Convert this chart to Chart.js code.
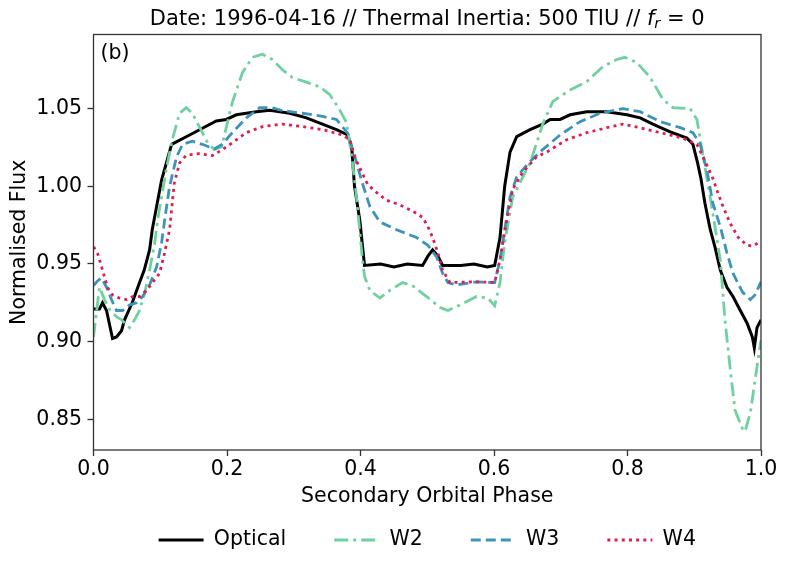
<!DOCTYPE html>
<html>
<head>
<meta charset="utf-8">
<script src="https://cdn.jsdelivr.net/npm/chart.js@4.4.1/dist/chart.umd.min.js"></script>
<style>
  html, body { margin: 0; padding: 0; background: #fff; }
  #wrap { width: 788px; height: 571px; }
</style>
</head>
<body>
<div id="wrap"><canvas id="myChart" width="788" height="571"></canvas></div>
<script>
// values
const opticalPhase = [0.0, 0.009, 0.0135, 0.0195, 0.0285, 0.0345, 0.042, 0.0465, 0.058, 0.069, 0.076, 0.084, 0.088, 0.102, 0.117, 0.144, 0.166, 0.184, 0.199, 0.214, 0.244, 0.264, 0.294, 0.319, 0.343, 0.364, 0.381, 0.387, 0.391, 0.399, 0.406, 0.43, 0.45, 0.47, 0.493, 0.501, 0.508, 0.516, 0.523, 0.55, 0.57, 0.59, 0.601, 0.609, 0.616, 0.624, 0.634, 0.654, 0.673, 0.684, 0.699, 0.714, 0.739, 0.769, 0.799, 0.819, 0.838, 0.864, 0.889, 0.898, 0.905, 0.91, 0.916, 0.924, 0.931, 0.939, 0.949, 0.958, 0.969, 0.979, 0.987, 0.99, 0.994, 1.0];
const opticalFlux = [0.921, 0.921, 0.925, 0.920, 0.902, 0.903, 0.907, 0.914, 0.925, 0.938, 0.946, 0.959, 0.972, 1.004, 1.027, 1.033, 1.038, 1.042, 1.043, 1.046, 1.048, 1.049, 1.047, 1.044, 1.040, 1.0365, 1.033, 1.024, 1.0, 0.978, 0.949, 0.950, 0.948, 0.950, 0.949, 0.955, 0.959, 0.955, 0.949, 0.949, 0.950, 0.948, 0.949, 0.967, 1.0, 1.022, 1.032, 1.0365, 1.040, 1.043, 1.043, 1.046, 1.048, 1.048, 1.046, 1.044, 1.040, 1.035, 1.031, 1.027, 1.015, 1.005, 0.989, 0.972, 0.961, 0.946, 0.935, 0.929, 0.920, 0.912, 0.903, 0.896, 0.909, 0.914];

const w2Phase = [0.0, 0.009, 0.0165, 0.025, 0.0345, 0.042, 0.054, 0.0615, 0.069, 0.0765, 0.084, 0.0915, 0.096, 0.109, 0.118, 0.129, 0.139, 0.148, 0.159, 0.171, 0.181, 0.192, 0.199, 0.208, 0.223, 0.238, 0.253, 0.268, 0.283, 0.298, 0.319, 0.339, 0.354, 0.369, 0.379, 0.387, 0.394, 0.402, 0.406, 0.414, 0.429, 0.444, 0.463, 0.478, 0.499, 0.519, 0.531, 0.549, 0.574, 0.591, 0.601, 0.609, 0.616, 0.628, 0.654, 0.664, 0.673, 0.688, 0.714, 0.739, 0.763, 0.784, 0.796, 0.814, 0.834, 0.853, 0.868, 0.894, 0.904, 0.913, 0.925, 0.939, 0.946, 0.954, 0.961, 0.972, 0.976, 0.984, 0.991, 1.0];
const w2Flux = [0.903, 0.935, 0.927, 0.920, 0.916, 0.914, 0.909, 0.914, 0.920, 0.931, 0.946, 0.963, 0.978, 1.011, 1.030, 1.047, 1.0506, 1.047, 1.038, 1.028, 1.0236, 1.0255, 1.038, 1.054, 1.073, 1.083, 1.085, 1.0816, 1.075, 1.070, 1.067, 1.064, 1.059, 1.049, 1.041, 1.019, 0.993, 0.957, 0.942, 0.933, 0.928, 0.933, 0.938, 0.936, 0.929, 0.922, 0.920, 0.9236, 0.929, 0.928, 0.923, 0.938, 0.9636, 0.993, 1.015, 1.028, 1.040, 1.0545, 1.062, 1.0674, 1.077, 1.0816, 1.083, 1.0797, 1.070, 1.056, 1.0506, 1.050, 1.043, 1.020, 0.990, 0.9526, 0.914, 0.882, 0.856, 0.844, 0.842, 0.854, 0.875, 0.901];

const w3Phase = [0.0, 0.006, 0.012, 0.0195, 0.027, 0.0345, 0.0435, 0.054, 0.0645, 0.0735, 0.084, 0.0945, 0.102, 0.1065, 0.114, 0.1245, 0.1335, 0.148, 0.163, 0.181, 0.193, 0.208, 0.229, 0.249, 0.267, 0.283, 0.313, 0.343, 0.364, 0.381, 0.391, 0.402, 0.414, 0.429, 0.454, 0.484, 0.501, 0.514, 0.523, 0.531, 0.544, 0.574, 0.601, 0.609, 0.616, 0.624, 0.634, 0.654, 0.673, 0.699, 0.729, 0.759, 0.793, 0.819, 0.849, 0.879, 0.898, 0.909, 0.919, 0.928, 0.939, 0.949, 0.958, 0.972, 0.984, 0.991, 1.0];
const w3Flux = [0.936, 0.939, 0.941, 0.935, 0.927, 0.920, 0.920, 0.9236, 0.925, 0.929, 0.9365, 0.948, 0.9636, 0.978, 1.0, 1.019, 1.027, 1.029, 1.027, 1.024, 1.027, 1.0345, 1.044, 1.0506, 1.0506, 1.0487, 1.047, 1.045, 1.043, 1.034, 1.020, 1.003, 0.987, 0.977, 0.972, 0.967, 0.962, 0.9545, 0.944, 0.938, 0.9365, 0.9385, 0.938, 0.9526, 0.972, 0.993, 1.006, 1.016, 1.0236, 1.033, 1.0416, 1.047, 1.050, 1.048, 1.0416, 1.0377, 1.0345, 1.027, 1.010, 0.989, 0.974, 0.957, 0.944, 0.932, 0.927, 0.930, 0.9385];

const w4Phase = [0.0, 0.006, 0.0135, 0.021, 0.0285, 0.039, 0.0495, 0.0585, 0.069, 0.0795, 0.0885, 0.099, 0.1065, 0.114, 0.121, 0.129, 0.139, 0.159, 0.178, 0.193, 0.208, 0.229, 0.253, 0.283, 0.313, 0.343, 0.373, 0.384, 0.391, 0.402, 0.411, 0.424, 0.439, 0.459, 0.478, 0.493, 0.501, 0.508, 0.516, 0.523, 0.534, 0.574, 0.601, 0.609, 0.619, 0.628, 0.643, 0.664, 0.679, 0.709, 0.739, 0.769, 0.793, 0.819, 0.849, 0.883, 0.904, 0.913, 0.927, 0.936, 0.944, 0.954, 0.966, 0.979, 0.988, 0.996, 1.0];
const w4Flux = [0.961, 0.957, 0.946, 0.935, 0.930, 0.928, 0.927, 0.929, 0.929, 0.933, 0.938, 0.944, 0.957, 0.972, 1.002, 1.015, 1.020, 1.021, 1.0197, 1.0236, 1.028, 1.0345, 1.0384, 1.040, 1.0384, 1.0365, 1.033, 1.030, 1.019, 1.009, 1.001, 0.996, 0.991, 0.988, 0.984, 0.980, 0.974, 0.967, 0.957, 0.946, 0.938, 0.9385, 0.938, 0.9526, 0.978, 0.998, 1.009, 1.019, 1.022, 1.030, 1.0345, 1.0377, 1.040, 1.0377, 1.0345, 1.031, 1.027, 1.019, 1.006, 0.995, 0.986, 0.976, 0.967, 0.962, 0.9615, 0.9636, 0.963];

const seriesNames = ['Optical', 'W2', 'W3', 'W4'];
const xTicks = [0.0, 0.2, 0.4, 0.6, 0.8, 1.0];
const yTicks = [0.85, 0.90, 0.95, 1.00, 1.05];
const titleStart = 'Date: 1996-04-16 // Thermal Inertia: 500 TIU // ';
const titleEnd = ' = 0';
const panelLabel = '(b)';

const FONT = 'DejaVu Sans';
const FS = 20.5;
const TITLE_FS = 21;
Chart.defaults.font.family = FONT;
Chart.defaults.font.size = FS;
Chart.defaults.color = '#000';

const toPoints = (xs, ys) => xs.map((x, i) => ({x: x, y: ys[i]}));

const frame = {
    id: 'frame',
    afterLayout(chart) {
        // centre the legend under the axes like matplotlib does
        const a = chart.chartArea;
        chart.legend.left = a.left;
        chart.legend.right = a.right;
        chart.legend.width = a.right - a.left;
    },
    afterDraw(chart) {
        const {ctx, chartArea: a} = chart;
        ctx.save();
        ctx.strokeStyle = '#333';
        ctx.lineWidth = 1.3;
        ctx.strokeRect(a.left, a.top, a.right - a.left, a.bottom - a.top);

        ctx.fillStyle = '#000';
        ctx.textBaseline = 'middle';
        ctx.textAlign = 'left';
        ctx.font = FS + 'px "' + FONT + '"';
        ctx.fillText(panelLabel, a.left + 7, a.top + 19);

        // title with italic f and subscript r
        const normal = TITLE_FS + 'px "' + FONT + '"';
        const ital = 'oblique ' + TITLE_FS + 'px "' + FONT + '"';
        const sub = 'oblique ' + (TITLE_FS * 0.7) + 'px "' + FONT + '"';
        ctx.font = normal; const w1 = ctx.measureText(titleStart).width;
        ctx.font = ital; const w2 = ctx.measureText('f').width;
        ctx.font = sub; const w3 = ctx.measureText('r').width;
        ctx.font = normal; const w4 = ctx.measureText(titleEnd).width;
        let x = (a.left + a.right) / 2 - (w1 + w2 + w3 + w4) / 2;
        const y = 19.5;
        ctx.font = normal; ctx.fillText(titleStart, x, y); x += w1;
        ctx.font = ital; ctx.fillText('f', x, y); x += w2;
        ctx.font = sub; ctx.fillText('r', x, y + 5); x += w3;
        ctx.font = normal; ctx.fillText(titleEnd, x, y);
        ctx.restore();
    }
};

const legendLabels = (chart) => {
    const items = Chart.defaults.plugins.legend.labels.generateLabels(chart);
    items.forEach((item) => {
        const ds = chart.data.datasets[item.datasetIndex];
        item.strokeStyle = ds.borderColor;
        item.lineWidth = ds.borderWidth;
        item.lineDash = ds.borderDash || [];
        item.lineDashOffset = 0;
        item.lineCap = 'butt';
        item.pointStyle = 'line';
    });
    return items.sort((a, b) => a.datasetIndex - b.datasetIndex);
};

const ctx = document.getElementById('myChart');

new Chart(ctx, {
    type: 'line',
    data: {
        datasets: [{
            label: seriesNames[0],
            data: toPoints(opticalPhase, opticalFlux),
            borderColor: '#000000',
            borderWidth: 3,
            order: 4
        }, {
            label: seriesNames[1],
            data: toPoints(w2Phase, w2Flux),
            borderColor: '#6fd1a0',
            borderWidth: 2.8,
            borderDash: [14, 5, 3, 5],
            order: 3
        }, {
            label: seriesNames[2],
            data: toPoints(w3Phase, w3Flux),
            borderColor: '#3d93ba',
            borderWidth: 2.8,
            borderDash: [10, 5],
            order: 2
        }, {
            label: seriesNames[3],
            data: toPoints(w4Phase, w4Flux),
            borderColor: '#dc1f4e',
            borderWidth: 2.8,
            borderDash: [3, 4.2],
            order: 1
        }]
    },
    options: {
        responsive: false,
        animation: false,
        devicePixelRatio: 1,
        layout: {
            padding: {left: 0, right: 27, top: 34.5, bottom: 10.75}
        },
        elements: {
            point: {radius: 0},
            line: {tension: 0, fill: false, borderCapStyle: 'butt'}
        },
        plugins: {
            legend: {
                position: 'bottom',
                labels: {
                    usePointStyle: true,
                    pointStyle: 'line',
                    pointStyleWidth: 45,
                    padding: 48,
                    color: '#000',
                    font: {size: FS},
                    generateLabels: legendLabels
                }
            },
            tooltip: {enabled: false},
            title: {display: false}
        },
        scales: {
            x: {
                type: 'linear',
                min: 0,
                max: 1,
                afterBuildTicks: (scale) => { scale.ticks = xTicks.map(v => ({value: v})); },
                afterFit: (scale) => { scale.height = 31.75; },
                grid: {drawOnChartArea: false, drawTicks: true, tickLength: 6, tickColor: '#333', tickWidth: 1.3},
                border: {display: false},
                ticks: {padding: 1.7, color: '#000', callback: (v) => v.toFixed(1), maxRotation: 0},
                title: {display: true, text: 'Secondary Orbital Phase', color: '#000', font: {size: FS}, padding: {top: 0, bottom: -27.55}}
            },
            y: {
                min: 0.8302,
                max: 1.0977,
                afterBuildTicks: (scale) => { scale.ticks = yTicks.map(v => ({value: v})); },
                afterFit: (scale) => { scale.width = 93.5; },
                grid: {drawOnChartArea: false, drawTicks: true, tickLength: 6, tickColor: '#333', tickWidth: 1.3},
                border: {display: false},
                ticks: {padding: 5.5, color: '#000', callback: (v) => v.toFixed(2)},
                title: {display: true, text: 'Normalised Flux', color: '#000', font: {size: FS}, padding: {top: 7.2, bottom: 0}}
            }
        }
    },
    plugins: [frame]
});
</script>
</body>
</html>
